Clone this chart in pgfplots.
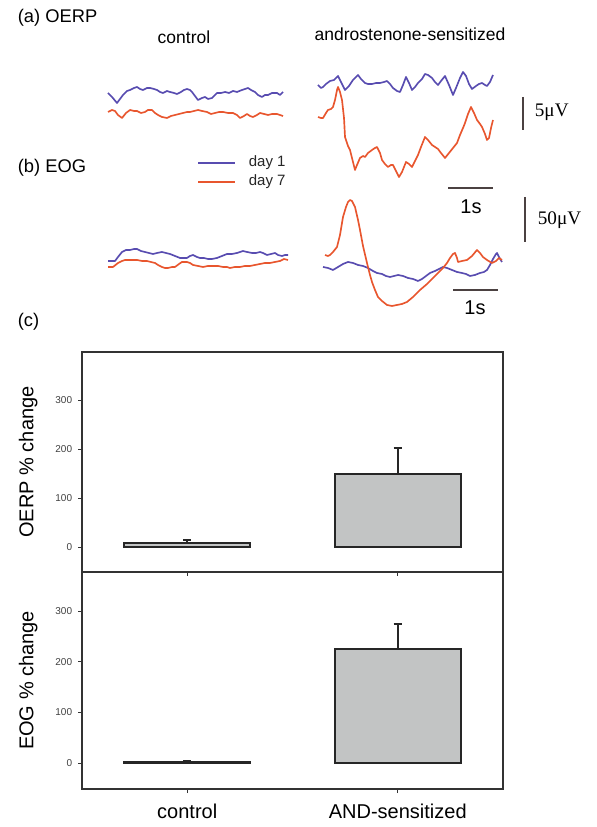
\documentclass[border=0pt]{standalone}
\usepackage{pgfplots}
\pgfplotsset{compat=1.18}
\usepackage{fontspec}
\setmainfont{Liberation Sans}
\newfontfamily\timesf{Liberation Serif}

\definecolor{dayone}{RGB}{88,76,176}
\definecolor{dayseven}{RGB}{232,86,46}
\definecolor{barfill}{RGB}{194,196,196}
\definecolor{scalebar}{RGB}{75,65,65}

% 1 px of the reference = 0.6pt
\begin{document}
\begin{tikzpicture}
\useasboundingbox (0,0) rectangle (358.2pt,496.2pt);

% ---- canvas for the recorded traces (pixel coordinates, y downwards negated)
\begin{axis}[
    at={(0,0)}, anchor=south west,
    scale only axis, width=358.2pt, height=496.2pt,
    xmin=0, xmax=597, ymin=-827, ymax=0,
    hide axis, clip=false,
    every axis plot/.append style={line width=1pt, line join=round},
  ]

  % (a) OERP, control
  \addplot[color=dayone] coordinates {
    (108,-93)(112,-97)(117,-103)(120,-99)(123,-95)(127,-91)(130,-90)(134,-88)(137,-87)(140,-89)
    (143,-90)(147,-88)(150,-88)(154,-89)(157,-90)(160,-92)(163,-93)(167,-91)(170,-92)(174,-93)
    (177,-94)(181,-92)(184,-90)(187,-89)(190,-90)(192,-92)(195,-96)(198,-100)(202,-98)(205,-97)
    (208,-99)(212,-98)(215,-95)(217,-93)(221,-93)(225,-92)(229,-93)(233,-91)(237,-92)(242,-90)
    (245,-89)(248,-88)(251,-90)(255,-92)(258,-95)(262,-97)(265,-95)(268,-95)(272,-93)(277,-93)
    (280,-95)(283,-92)
  };
  \addplot[color=dayseven] coordinates {
    (108,-112)(112,-110)(115,-111)(118,-115)(122,-118)(126,-113)(130,-110)(134,-111)(137,-111)
    (141,-113)(145,-112)(148,-110)(152,-110)(155,-113)(158,-115)(162,-117)(167,-118)(171,-116)
    (175,-115)(179,-114)(183,-113)(187,-112)(190,-112)(194,-111)(198,-110)(202,-111)(207,-112)
    (211,-114)(215,-113)(219,-112)(223,-112)(228,-113)(233,-113)(237,-115)(240,-118)(244,-116)
    (247,-114)(250,-116)(253,-117)(257,-115)(260,-113)(264,-114)(268,-115)(272,-114)(277,-114)
    (280,-115)(283,-116)
  };

  % (a) OERP, androstenone-sensitized
  \addplot[color=dayone] coordinates {
    (318,-85)(321,-88)(323,-87)(326,-84)(330,-81)(334,-80)(338,-76)(341,-82)(345,-90)(349,-86)
    (353,-80)(358,-75)(361,-79)(365,-83)(368,-84)(372,-84)(376,-83)(380,-83)(384,-82)(387,-81)
    (390,-84)(393,-88)(397,-91)(400,-92)(403,-85)(406,-77)(409,-83)(412,-90)(415,-87)(418,-83)
    (422,-79)(425,-74)(428,-75)(432,-78)(435,-82)(438,-85)(441,-81)(445,-76)(449,-85)(453,-95)
    (456,-88)(460,-78)(463,-72)(466,-76)(469,-84)(472,-89)(476,-86)(479,-84)(482,-83)(485,-85)
    (487,-86)(490,-82)(493,-75)
  };
  \addplot[color=dayseven] coordinates {
    (318,-117)(321,-118)(323,-118)(326,-113)(328,-110)(331,-109)(333,-107)(335,-100)(337,-90)
    (338,-87)(340,-92)(342,-100)(344,-118)(345,-137)(348,-146)(350,-150)(352,-158)(355,-170)
    (357,-165)(360,-158)(363,-156)(365,-157)(368,-153)(372,-150)(375,-148)(377,-147)(380,-153)
    (382,-160)(385,-164)(388,-167)(391,-165)(393,-165)(396,-171)(399,-177)(402,-172)(406,-162)
    (409,-164)(412,-167)(415,-161)(418,-155)(421,-147)(425,-137)(428,-140)(432,-145)(435,-147)
    (438,-149)(441,-153)(445,-158)(449,-153)(453,-148)(457,-143)(460,-135)(463,-128)(465,-123)
    (468,-114)(471,-107)(474,-113)(477,-120)(480,-124)(482,-127)(485,-134)(487,-140)(489,-138)
    (491,-128)(493,-120)
  };

  % (b) EOG, control
  \addplot[color=dayone] coordinates {
    (108,-261)(112,-261)(115,-261)(118,-257)(122,-252)(126,-250)(130,-250)(134,-249)(137,-249)
    (141,-251)(145,-252)(149,-253)(153,-254)(157,-253)(162,-252)(166,-253)(170,-254)(175,-256)
    (180,-258)(184,-258)(187,-258)(190,-256)(193,-255)(197,-257)(200,-258)(204,-258)(208,-259)
    (212,-259)(217,-258)(222,-256)(227,-254)(232,-254)(237,-253)(240,-252)(243,-251)(247,-252)
    (252,-253)(256,-253)(260,-252)(263,-253)(267,-255)(271,-254)(275,-253)(278,-255)(282,-256)
    (285,-255)(288,-255)
  };
  \addplot[color=dayseven] coordinates {
    (108,-267)(113,-267)(118,-263)(122,-261)(125,-260)(131,-260)(137,-260)(142,-261)(147,-261)
    (151,-262)(155,-263)(158,-265)(162,-267)(165,-268)(168,-268)(172,-267)(175,-267)(179,-264)
    (182,-262)(187,-262)(190,-263)(193,-265)(198,-266)(203,-267)(208,-266)(213,-266)(218,-266)
    (223,-267)(227,-267)(230,-268)(235,-267)(240,-267)(245,-266)(250,-266)(255,-265)(260,-264)
    (265,-263)(270,-263)(275,-262)(280,-261)(284,-259)(288,-260)
  };

  % (b) EOG, androstenone-sensitized
  \addplot[color=dayone] coordinates {
    (323,-267)(328,-268)(333,-270)(338,-267)(343,-264)(348,-262)(353,-263)(358,-265)(363,-266)
    (368,-268)(373,-271)(377,-273)(382,-274)(386,-276)(390,-277)(394,-276)(398,-275)(403,-276)
    (408,-278)(413,-279)(418,-281)(422,-279)(426,-276)(430,-273)(435,-271)(439,-269)(443,-267)
    (447,-268)(452,-270)(457,-272)(462,-273)(466,-274)(470,-276)(475,-275)(480,-273)(484,-272)
    (487,-270)(490,-265)(493,-259)(496,-254)(497,-253)(499,-257)(502,-262)
  };
  \addplot[color=dayseven] coordinates {
    (325,-255)(328,-256)(330,-255)(333,-252)(337,-247)(340,-235)(343,-217)(346,-207)(348,-202)
    (350,-200)(352,-201)(355,-207)(358,-220)(360,-230)(363,-246)(367,-263)(370,-275)(372,-282)
    (375,-290)(378,-297)(382,-301)(387,-305)(392,-306)(397,-305)(402,-304)(407,-302)(413,-297)
    (420,-290)(427,-284)(433,-278)(438,-273)(443,-268)(447,-263)(450,-258)(453,-254)(455,-253)
    (457,-258)(458,-262)(462,-261)(467,-260)(472,-256)(477,-250)(480,-253)(483,-257)(487,-260)
    (492,-263)(496,-261)(499,-258)(502,-260)
  };

  % legend
  \addplot[color=dayone] coordinates {(198,-163)(235,-163)};
  \addplot[color=dayseven] coordinates {(198,-182)(235,-182)};
  \node[anchor=west, font=\fontsize{9}{10}\selectfont, text=black!85] at (axis cs:243,-163) {day 1};
  \node[anchor=west, font=\fontsize{9}{10}\selectfont, text=black!85] at (axis cs:243,-182) {day 7};

  % scale bars
  \draw[scalebar, line width=1.1pt] (axis cs:523,-97) -- (axis cs:523,-130);
  \draw[scalebar, line width=1.1pt] (axis cs:448,-188) -- (axis cs:493,-188);
  \draw[scalebar, line width=1.1pt] (axis cs:525,-197) -- (axis cs:525,-242);
  \draw[scalebar, line width=1.1pt] (axis cs:453,-290) -- (axis cs:498,-290);
  \node[anchor=west, font=\timesf\fontsize{11.5}{13}\selectfont] at (axis cs:529,-112) {5μV};
  \node[anchor=west, font=\timesf\fontsize{11.5}{13}\selectfont] at (axis cs:532,-220) {50μV};
  \node[font=\fontsize{12}{14}\selectfont] at (axis cs:471,-207) {1s};
  \node[font=\fontsize{12}{14}\selectfont] at (axis cs:475,-308) {1s};

  % panel titles
  \node[anchor=west, font=\fontsize{11}{13}\selectfont] at (axis cs:12,-18) {(a) OERP};
  \node[font=\fontsize{10.5}{12}\selectfont] at (axis cs:184,-37) {control};
  \node[font=\fontsize{10.5}{12}\selectfont] at (axis cs:410,-34) {androstenone-sensitized};
  \node[anchor=west, font=\fontsize{11}{13}\selectfont] at (axis cs:12,-168) {(b) EOG};
  \node[anchor=west, font=\fontsize{11}{13}\selectfont] at (axis cs:12,-322) {(c)};
\end{axis}

\pgfplotsset{
  barpanel/.style={
    scale only axis, width=252.6pt,
    xmin=0.5, xmax=2.5, ymin=-51,
    xtick={1,2}, ytick={0,100,200,300},
    xtick pos=bottom, ytick pos=left, tick align=outside,
    major tick length=2.4pt,
    axis line style={line width=0.9pt, black!80},
    every tick/.style={black!80, line width=0.6pt},
    /pgf/number format/assume math mode=true,
    yticklabel style={font=\fontsize{6}{7}\selectfont, text=black!75},
    ylabel style={at={(axis description cs:-0.128,0.5)}, anchor=center,
                  font=\fontsize{12}{14}\selectfont},
    ybar, bar width=0.6,
  },
  barstyle/.style={
    fill=barfill, draw=black!85, line width=1.1pt,
    error bars/y dir=plus, error bars/y explicit,
    error bars/error bar style={line width=1pt, black!85},
    error bars/error mark options={rotate=90, mark size=2.4pt, line width=1pt, black!85},
  },
}

% ---- (c) OERP % change
\begin{axis}[barpanel,
    at={(49.2pt,153pt)}, anchor=south west,
    height=132pt, ymax=398,
    xticklabels={},
    ylabel={OERP \% change},
  ]
  \addplot[barstyle] coordinates {(1,8) +- (0,6) (2,149) +- (0,53)};
\end{axis}

% ---- (c) EOG % change
\begin{axis}[barpanel,
    at={(49.2pt,22.8pt)}, anchor=south west,
    height=130.2pt, ymax=377,
    xticklabels={control, AND-sensitized},
    xticklabel style={font=\fontsize{12}{14}\selectfont, yshift=-3pt},
    ylabel={EOG \% change},
  ]
  \addplot[barstyle] coordinates {(1,1.5) +- (0,4) (2,225) +- (0,50)};
\end{axis}

\end{tikzpicture}
\end{document}
